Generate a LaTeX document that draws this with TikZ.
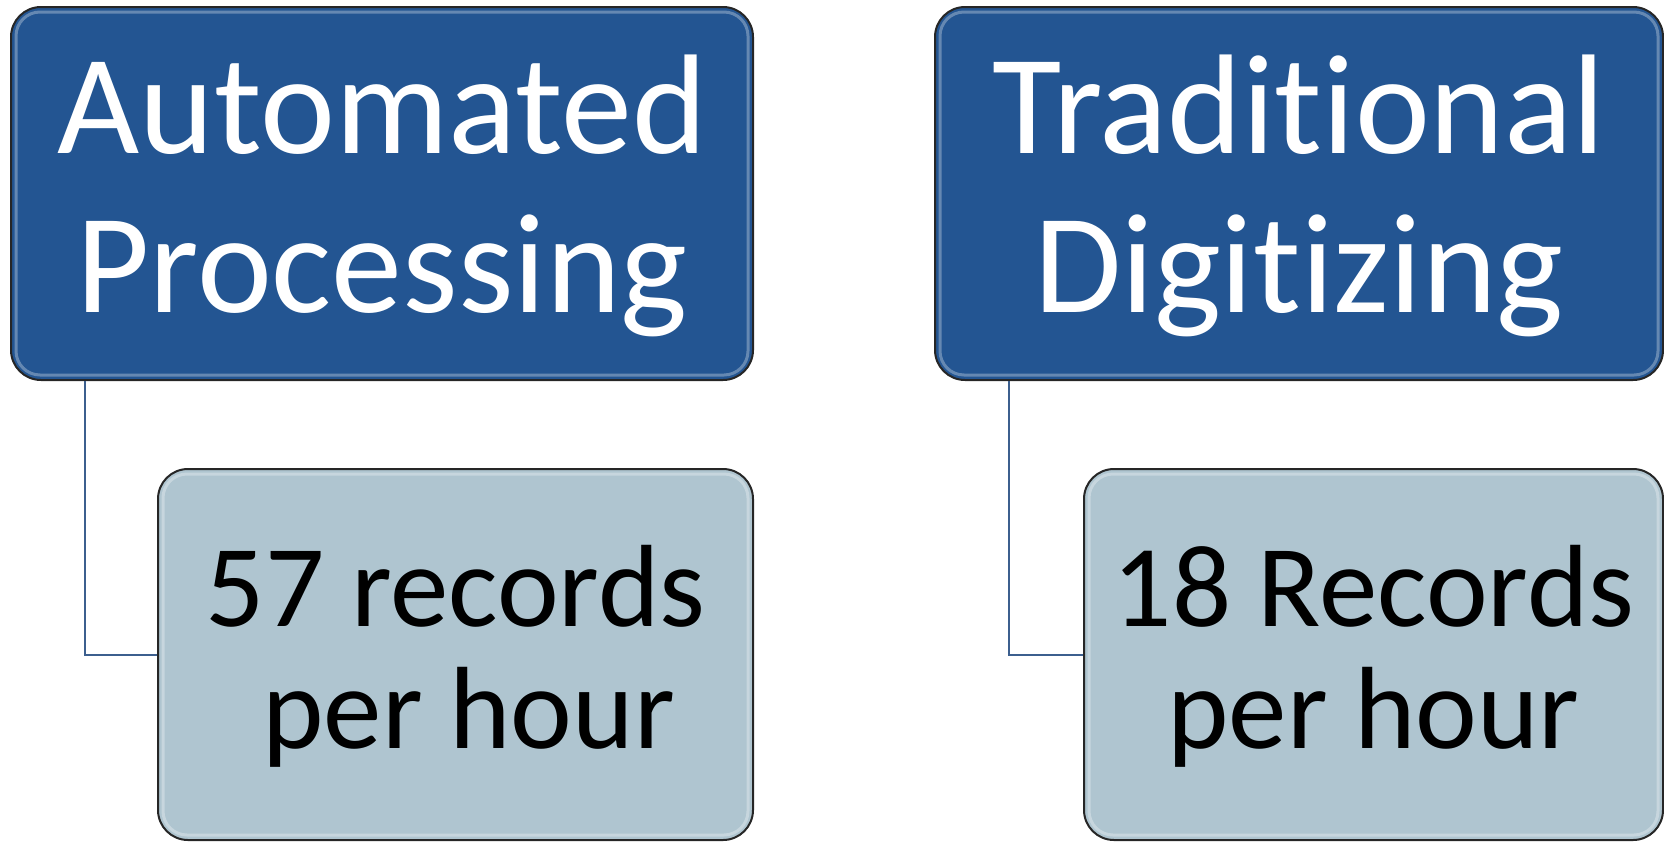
\documentclass[tikz,border=0pt]{standalone}
\usepackage{fontspec}
\setmainfont{Carlito}[Ligatures=NoCommon]
\definecolor{headblue}{HTML}{235592}
\definecolor{ratefill}{HTML}{AFC5D0}
\definecolor{linkblue}{HTML}{3C5F8E}
\tikzset{
head/.style={draw=black!85, line width=1pt, fill=headblue, rounded corners=15pt, text=white, align=center, inner sep=0pt, minimum height=186.5pt, text depth=10pt, font=\fontsize{71}{79.5}\selectfont},
rate/.style={draw=black!85, line width=1pt, fill=ratefill, rounded corners=15pt, text=black, align=center, inner sep=0pt, minimum height=185.5pt, text depth=7.3pt, font=\fontsize{58.5}{61}\selectfont},
link/.style={draw=linkblue, line width=1pt},
gloss/.style={draw=white, opacity=.3, line width=1.5pt, rounded corners=12pt}
}
\begin{document}
\begin{tikzpicture}[x=0.5pt,y=-0.5pt]
\useasboundingbox (0,0) rectangle (1664,841);
\node[head, minimum width=371pt] (head1) at (382,193.5) {Automated\\Processing};
\node[head, minimum width=364pt] (head2) at (1299,193.5) {Traditional\\Digitizing};
\node[rate, minimum width=297.5pt] (rate1) at (455.5,654.5) {57 records\\\mbox{} per hour};
\node[rate, minimum width=289.5pt] (rate2) at (1373.5,654.5) {18 Records\\per hour};
\draw[gloss] ([shift={(3pt,-3pt)}]head1.north west) rectangle ([shift={(-3pt,3pt)}]head1.south east);
\draw[gloss] ([shift={(3pt,-3pt)}]head2.north west) rectangle ([shift={(-3pt,3pt)}]head2.south east);
\draw[gloss] ([shift={(3pt,-3pt)}]rate1.north west) rectangle ([shift={(-3pt,3pt)}]rate1.south east);
\draw[gloss] ([shift={(3pt,-3pt)}]rate2.north west) rectangle ([shift={(-3pt,3pt)}]rate2.south east);
\draw[link] ([xshift=37.5pt]head1.south west) |- (rate1.west);
\draw[link] ([xshift=37.5pt]head2.south west) |- (rate2.west);
\end{tikzpicture}
\end{document}
